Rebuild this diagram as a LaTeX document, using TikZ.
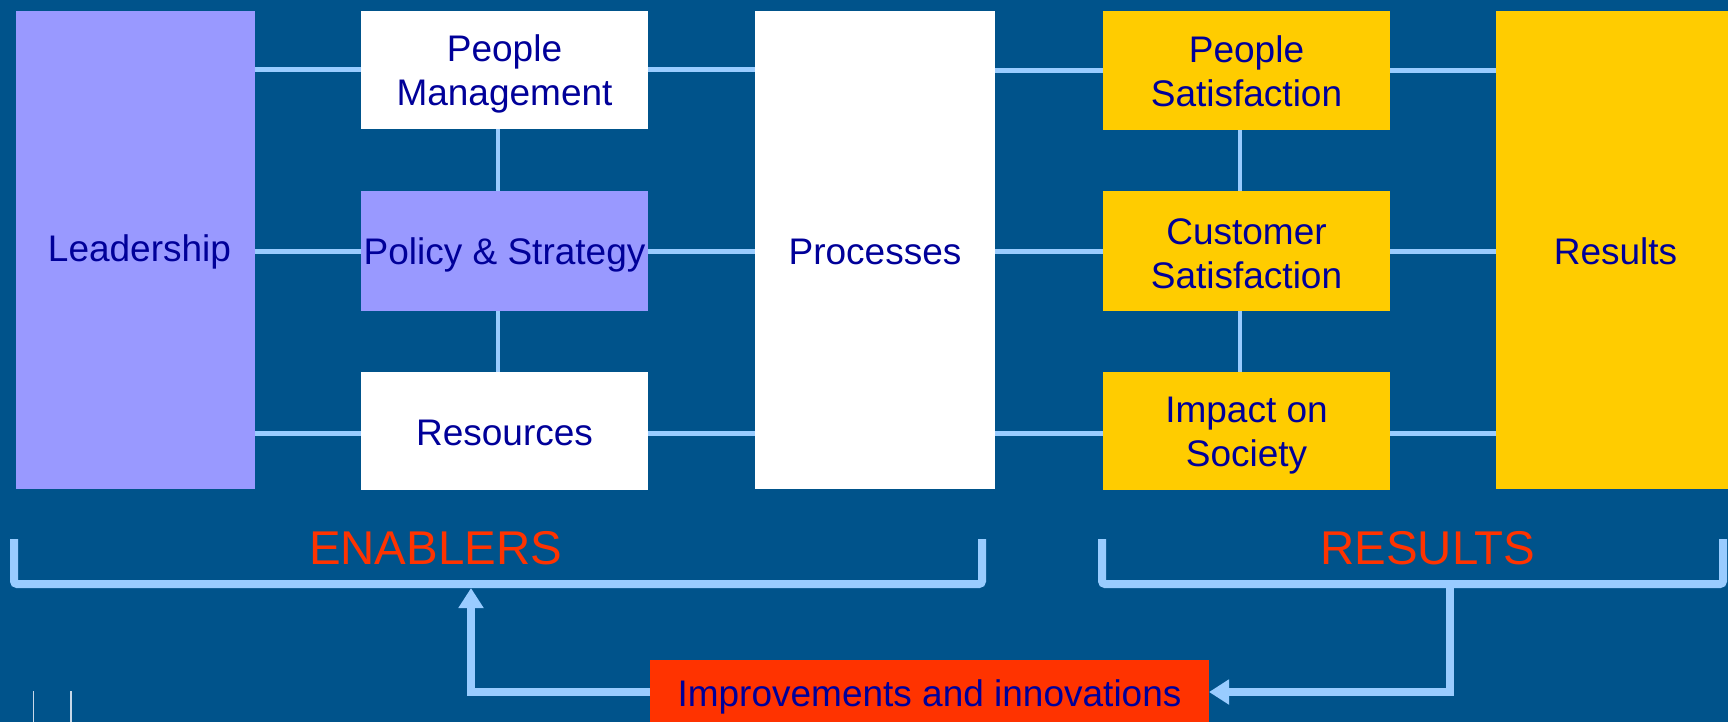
\documentclass[tikz,border=0pt]{standalone}
\usepackage{fontspec}
\setmainfont{Liberation Sans}
\usetikzlibrary{arrows.meta}
\definecolor{bg}{HTML}{00538B}
\definecolor{lav}{HTML}{9999FF}
\definecolor{gold}{HTML}{FFCC00}
\definecolor{lnk}{HTML}{99CCFF}
\definecolor{txt}{HTML}{000099}
\definecolor{redo}{HTML}{FF3300}
\definecolor{tick}{HTML}{C8D8E8}
\tikzset{
  box/.style={inner sep=0pt, outer sep=0pt},
  lbl/.style={inner sep=0pt, align=center, text=txt,
    font=\fontsize{18.5}{22}\selectfont},
  wbox/.style={box, fill=white, minimum width=143.5pt, minimum height=59pt},
  lbox/.style={box, fill=lav, minimum width=143.5pt, minimum height=60pt},
  ybox/.style={box, fill=gold, minimum width=143.5pt, minimum height=59pt},
  tall/.style={box, minimum width=119.5pt, minimum height=239pt},
  link/.style={draw=lnk, line width=2.5pt},
  vlink/.style={draw=lnk, line width=2pt},
  brace/.style={draw=lnk, line width=4pt, rounded corners=1.5pt},
  fb/.style={draw=lnk, line width=4pt, -{Triangle[length=10pt,width=12pt]}},
  grp/.style={text=redo, font=\fontsize{23.7}{28}\selectfont, inner sep=0pt}
}
\begin{document}
\begin{tikzpicture}[x=0.5pt,y=-0.5pt]
\useasboundingbox (0,0) rectangle (1728,722);
\fill[bg] (0,0) rectangle (1728,722);
\clip (0,0) rectangle (1728,722);

% boxes
\node[tall, fill=lav] (lead) at (135.5,250) {};
\node[wbox] (pm) at (504.5,70) {};
\node[lbox] (ps) at (504.5,251) {};
\node[wbox] (res) at (504.5,431) {};
\node[tall, fill=white, minimum width=120pt] (proc) at (875,250) {};
\node[ybox, minimum height=59.5pt] (psat) at (1246.5,70.5) {};
\node[ybox, minimum height=60pt] (csat) at (1246.5,251) {};
\node[ybox] (imp) at (1246.5,431) {};
\node[tall, fill=gold] (resl) at (1615.5,250) {};
\node[box, fill=redo, minimum width=279.5pt, minimum height=37pt] (improv) at (929.5,697) {};

% labels
\node[lbl] (leadt) at ([xshift=2pt,yshift=-1.2pt]lead.center) {Leadership};
\node[lbl] (pmt) at ([yshift=-1.8pt]pm.center) {People\\Management};
\node[lbl] (pst) at ([yshift=-2pt]ps.center) {Policy \& Strategy};
\node[lbl] (rest) at ([yshift=-1.2pt]res.center) {Resources};
\node[lbl] (proct) at ([yshift=-1.2pt]proc.center) {Processes};
\node[lbl] (psatt) at ([yshift=-0.6pt]psat.center) {People\\Satisfaction};
\node[lbl] (csatt) at ([yshift=-1.6pt]csat.center) {Customer\\Satisfaction};
\node[lbl] (impt) at ([yshift=-2.2pt]imp.center) {Impact on\\Society};
\node[lbl] (reslt) at ([yshift=-0.6pt]resl.center) {Results};
\node[lbl] (improvt) at (improv.center) {Improvements and innovations};

% horizontal links
\draw[link] (lead.east |- pm.west) -- (pm.west);
\draw[link] (pm.east) -- (proc.west |- pm.east);
\draw[link] (proc.east |- psat.west) -- (psat.west);
\draw[link] (psat.east) -- (resl.west |- psat.east);
\draw[link] (lead.east |- ps.west) -- (ps.west);
\draw[link] (ps.east) -- (proc.west |- ps.east);
\draw[link] (proc.east |- csat.west) -- (csat.west);
\draw[link] (csat.east) -- (resl.west |- csat.east);
\draw[link] (lead.east |- 0,433) -- (res.west |- 0,433);
\draw[link] (res.east |- 0,433) -- (proc.west |- 0,433);
\draw[link] (proc.east |- 0,433) -- (imp.west |- 0,433);
\draw[link] (imp.east |- 0,433) -- (resl.west |- 0,433);

% vertical links
\draw[vlink] ([xshift=-3.25pt]pm.south) -- ([xshift=-3.25pt]ps.north);
\draw[vlink] ([xshift=-3.25pt]ps.south) -- ([xshift=-3.25pt]res.north);
\draw[vlink] ([xshift=-3.5pt]psat.south) -- ([xshift=-3.5pt]csat.north);
\draw[vlink] ([xshift=-3.5pt]csat.south) -- ([xshift=-3.5pt]imp.north);

% brackets
\coordinate (ea) at (14,539);
\coordinate (eb) at (14,584);
\coordinate (ec) at (982,584);
\coordinate (ed) at (982,539);
\coordinate (ra) at (1102,539);
\coordinate (rb) at (1102,584);
\coordinate (rc) at (1723,584);
\coordinate (rd) at (1723,539);
\draw[brace] (ea) -- (eb) -- (ec) -- (ed);
\draw[brace] (ra) -- (rb) -- (rc) -- (rd);
\node[grp] (enab) at (435.5,548) {ENABLERS};
\node[grp] (resu) at (1428,548) {RESULTS};

% feedback arrows
\coordinate (etip) at (471,588);
\coordinate (ecorner) at (471,692);
\coordinate (rtop) at (1450,584);
\coordinate (rcorner) at (1450,692);
\draw[fb] ([yshift=2.5pt]improv.west) -- (ecorner) -- (etip);
\draw[fb] (rtop) -- (rcorner) -- ([yshift=2.5pt]improv.east);

% small marks bottom left
\coordinate (t1a) at (33.5,691);
\coordinate (t1b) at (33.5,722);
\coordinate (t2a) at (71,691);
\coordinate (t2b) at (71,722);
\draw[tick, line width=0.7pt] (t1a) -- (t1b);
\draw[tick, line width=0.7pt] (t2a) -- (t2b);
\end{tikzpicture}
\end{document}
